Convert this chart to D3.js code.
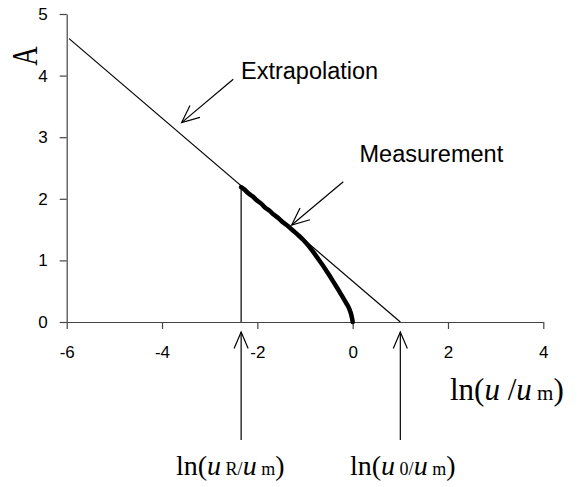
<!DOCTYPE html>
<html>
<head>
<meta charset="utf-8">
<script src="https://cdn.jsdelivr.net/npm/d3@7"></script>
<style>
  html, body { margin: 0; padding: 0; background: #fff; }
  svg { display: block; }
</style>
</head>
<body>
<svg id="chart" width="578" height="487"></svg>
<script>
// Axis ticks
const xTicks = [-6, -4, -2, 0, 2, 4];
const yTicks = [0, 1, 2, 3, 4, 5];

// Measured curve: ln(u/um) vs A
const measX = [-2.34, -2.27, -2.19, -2.1, -2.02, -1.93, -1.84, -1.75, -1.65, -1.55, -1.45, -1.36, -1.26, -1.15, -1.04, -0.93, -0.82, -0.71, -0.6, -0.5, -0.41, -0.33, -0.26, -0.19, -0.13, -0.08, -0.05, -0.03, -0.015, -0.005, 0];
const measA = [2.19, 2.15, 2.09, 2.04, 1.98, 1.93, 1.86, 1.81, 1.74, 1.68, 1.61, 1.56, 1.49, 1.415, 1.335, 1.24, 1.13, 1.01, 0.89, 0.77, 0.66, 0.56, 0.47, 0.38, 0.3, 0.23, 0.17, 0.12, 0.07, 0.03, 0];

// Straight-line extrapolation to A = 0
const extrapX = [-5.95, 1.0];
const extrapA = [4.6, 0];

// Marked abscissae
const lnUR = -2.34;   // ln(uR/um)
const lnU0 = 1.0;     // ln(u0/um)

// Annotation arrows [tailX, tailA, tipX, tipA]
const extrapArrow = [-2.505, 3.94, -3.588, 3.237];
const measArrow = [-0.197, 2.278, -1.279, 1.575];

const svg = d3.select("#chart");
const sans = "'Liberation Sans', Arial, sans-serif";
const serif = "'Liberation Serif', 'Times New Roman', serif";

const x = d3.scaleLinear().domain([-6, 4]).range([66.7, 543.3]);
const y = d3.scaleLinear().domain([0, 5]).range([322, 14]);

const axisColor = "#444";

// Y axis
const gy = svg.append("g")
  .attr("transform", `translate(${x(-6)},0)`)
  .call(d3.axisLeft(y).tickValues(yTicks).tickSizeInner(7).tickSizeOuter(0).tickPadding(12).tickFormat(d => String(d)));
// X axis
const gx = svg.append("g")
  .attr("transform", `translate(0,${y(0)})`)
  .call(d3.axisBottom(x).tickValues(xTicks).tickSizeInner(7).tickSizeOuter(0).tickPadding(17).tickFormat(d => String(d)));

[gx, gy].forEach(g => {
  g.selectAll("path.domain").attr("stroke", axisColor).attr("stroke-width", 1.2);
  g.selectAll(".tick line").attr("stroke", axisColor).attr("stroke-width", 1.2);
  g.selectAll(".tick text").attr("fill", "#000").style("font-family", sans).style("font-size", "17px");
});

const line = d3.line().x(d => x(d[0])).y(d => y(d[1]));
const smooth = d3.line().x(d => x(d[0])).y(d => y(d[1])).curve(d3.curveCatmullRom.alpha(0.5));

// Extrapolation line
svg.append("path")
  .datum(extrapX.map((v, i) => [v, extrapA[i]]))
  .attr("d", line)
  .attr("fill", "none").attr("stroke", "#000").attr("stroke-width", 1.2);

// Vertical drop at ln(uR/um)
svg.append("path")
  .datum([[lnUR, 0], [lnUR, measA[0]]])
  .attr("d", line)
  .attr("fill", "none").attr("stroke", "#000").attr("stroke-width", 1.2);

// Measurement curve
svg.append("path")
  .datum(measX.map((v, i) => [v, measA[i]]))
  .attr("d", smooth)
  .attr("fill", "none").attr("stroke", "#000").attr("stroke-width", 4.5)
  .attr("stroke-linejoin", "round").attr("stroke-linecap", "round");

// Open arrow between two pixel points
function arrow(x1, y1, x2, y2, head = 19, spread = 24) {
  const ang = Math.atan2(y1 - y2, x1 - x2);
  const a = spread * Math.PI / 180;
  const g = svg.append("g").attr("stroke", "#000").attr("stroke-width", 1.2).attr("fill", "none");
  g.append("line").attr("x1", x1).attr("y1", y1).attr("x2", x2).attr("y2", y2);
  g.append("polyline").attr("points", [
    [x2 + head * Math.cos(ang - a), y2 + head * Math.sin(ang - a)],
    [x2, y2],
    [x2 + head * Math.cos(ang + a), y2 + head * Math.sin(ang + a)]
  ].map(p => p.join(",")).join(" "));
}

arrow(x(extrapArrow[0]), y(extrapArrow[1]), x(extrapArrow[2]), y(extrapArrow[3]));
arrow(x(measArrow[0]), y(measArrow[1]), x(measArrow[2]), y(measArrow[3]));

// Arrows from the lower labels up to the axis
[lnUR, lnU0].forEach(v => arrow(x(v), y(0) + 118, x(v), y(0) + 10, 18, 23));

// Annotation labels
svg.append("text").attr("x", 241).attr("y", 79)
  .style("font-family", sans).style("font-size", "23.5px").text("Extrapolation");
svg.append("text").attr("x", 359.5).attr("y", 161.5)
  .style("font-family", sans).style("font-size", "23.5px").text("Measurement");

// Y axis title
svg.append("text")
  .attr("transform", "translate(36.5,56) rotate(-90) scale(1,1.3)")
  .attr("text-anchor", "middle")
  .style("font-family", serif).style("font-size", "27px").text("A");

// Serif labels with italic u and small subscripts
function lnLabel(px, py, size, sub, parts) {
  const t = svg.append("text").attr("x", px).attr("y", py)
    .style("font-family", serif).style("font-size", size + "px").attr("xml:space", "preserve");
  parts.forEach(p => {
    const s = t.append("tspan").text(p.t);
    if (p.i) s.style("font-style", "italic");
    if (p.s) s.style("font-size", sub + "px");
  });
}

lnLabel(450, 400, 31, 21, [{t: "ln("}, {t: "u", i: 1}, {t: " /"}, {t: "u", i: 1}, {t: " m", s: 1}, {t: ")"}]);
lnLabel(176, 475, 28, 18, [{t: "ln("}, {t: "u", i: 1}, {t: " R/", s: 1}, {t: "u", i: 1}, {t: " m", s: 1}, {t: ")"}]);
lnLabel(350, 475, 28, 18, [{t: "ln("}, {t: "u", i: 1}, {t: " 0/", s: 1}, {t: "u", i: 1}, {t: " m", s: 1}, {t: ")"}]);
</script>
</body>
</html>
